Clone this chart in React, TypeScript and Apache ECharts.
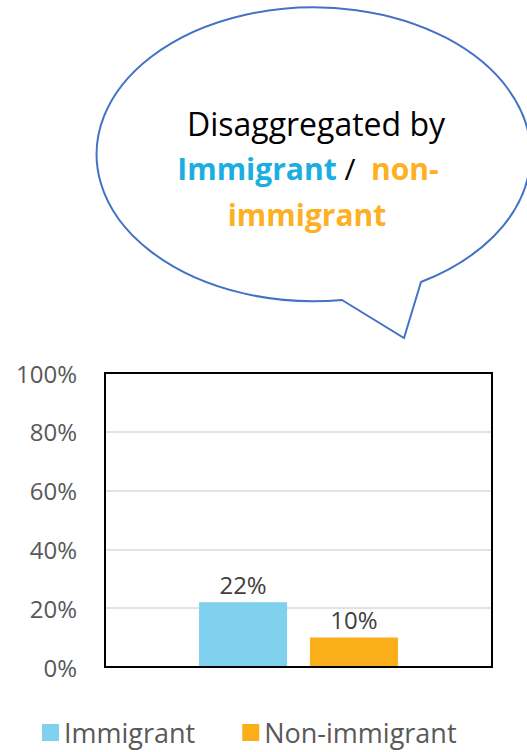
import React, { useEffect, useRef } from "react";
import * as echarts from "echarts";

// Share of each group, as fractions of 1
const categories = ["Total"];
const seriesNames = ["Immigrant", "Non-immigrant"];
const immigrantValues = [0.22];
const nonImmigrantValues = [0.1];
const yTicks = [0, 0.2, 0.4, 0.6, 0.8, 1];

const BLUE = "#7FD1EE";
const ORANGE = "#FAAE19";
const FONT = '"Open Sans", "Noto Sans", sans-serif';

// Speech bubble outline: ellipse with a tail pointing down-right
const BUBBLE_D =
  "M 342 300 L 404 338 L 421 282 A 217 147 0 1 0 342 300 Z";
echarts.graphic.registerShape("bubble", echarts.graphic.extendPath(BUBBLE_D, {}));

export default function App() {
  const ref = useRef<HTMLDivElement>(null);

  useEffect(() => {
    if (!ref.current) return;
    const chart = echarts.init(ref.current, undefined, { renderer: "svg" });
    const pct = (v: number) => `${Math.round(v * 100)}%`;

    const barLabel = {
      show: true,
      position: "top",
      distance: 6,
      formatter: (p: any) => pct(p.value),
      color: "#404040",
      fontSize: 24,
      fontFamily: FONT,
    };

    chart.setOption({
      animation: false,
      backgroundColor: "#fff",
      grid: {
        left: 105,
        top: 373,
        width: 387,
        height: 294,
        show: true,
        borderColor: "#000",
        borderWidth: 2,
        z: 3,
        containLabel: false,
      },
      xAxis: {
        type: "category",
        data: categories,
        axisLabel: { show: false },
        axisTick: { show: false },
        axisLine: { show: false },
      },
      yAxis: {
        type: "value",
        min: yTicks[0],
        max: yTicks[yTicks.length - 1],
        interval: 0.2,
        axisLine: { show: false },
        axisTick: { show: false },
        splitLine: {
          showMinLine: false,
          showMaxLine: false,
          lineStyle: { color: "#D9D9D9", width: 1.5 },
        },
        axisLabel: {
          formatter: (v: number) => pct(v),
          color: "#595959",
          fontSize: 24,
          fontFamily: FONT,
          margin: 28,
        },
      },
      legend: {
        data: seriesNames,
        left: 42,
        top: 719,
        padding: 0,
        icon: "rect",
        itemWidth: 17,
        itemHeight: 17,
        itemGap: 47,
        textStyle: { color: "#595959", fontSize: 27, fontFamily: FONT },
      },
      series: [
        {
          name: seriesNames[0],
          type: "bar",
          data: immigrantValues,
          barWidth: 88,
          barGap: "26%",
          itemStyle: { color: BLUE },
          label: barLabel,
        },
        {
          name: seriesNames[1],
          type: "bar",
          data: nonImmigrantValues,
          barWidth: 88,
          itemStyle: { color: ORANGE },
          label: barLabel,
        },
      ],
      graphic: [
        {
          type: "rect",
          z: 5,
          silent: true,
          shape: { x: 105, y: 373, width: 387, height: 294 },
          style: { fill: "none", stroke: "#000", lineWidth: 2 },
        },
        {
          type: "bubble",
          x: 0,
          y: 0,
          z: 10,
          style: { fill: "#fff", stroke: "#4472C4", lineWidth: 2 },
        },
        {
          type: "text",
          x: 316,
          y: 123,
          z: 11,
          style: {
            text: "Disaggregated by",
            fill: "#000",
            fontSize: 32,
            fontFamily: FONT,
            align: "center",
            verticalAlign: "middle",
          },
        },
        {
          type: "text",
          x: 308,
          y: 168,
          z: 11,
          style: {
            text: "{b|Immigrant}{s| /  }{o|non-}",
            align: "center",
            verticalAlign: "middle",
            fontSize: 30,
            fontFamily: FONT,
            rich: {
              b: { fill: "#1AAFE0", fontSize: 30, fontWeight: "bold", fontFamily: FONT },
              s: { fill: "#000", fontSize: 30, fontFamily: FONT },
              o: { fill: "#FDB022", fontSize: 30, fontWeight: "bold", fontFamily: FONT },
            },
          },
        },
        {
          type: "text",
          x: 307,
          y: 214,
          z: 11,
          style: {
            text: "immigrant",
            fill: "#FDB022",
            fontSize: 30,
            fontWeight: "bold",
            fontFamily: FONT,
            align: "center",
            verticalAlign: "middle",
          },
        },
      ],
    });

    return () => chart.dispose();
  }, []);

  return (
    <div
      ref={ref}
      style={{ position: "fixed", left: 0, top: 0, width: 527, height: 752 }}
    />
  );
}
